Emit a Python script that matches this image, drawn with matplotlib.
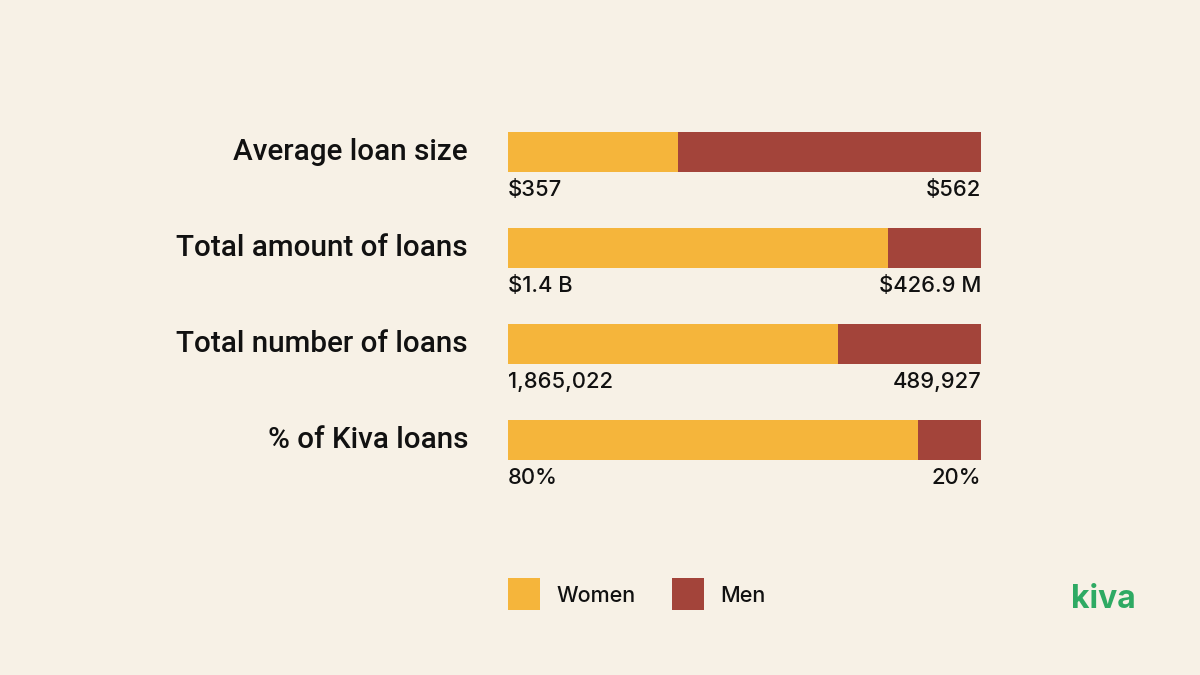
import matplotlib
matplotlib.use("Agg")
import matplotlib.pyplot as plt
from matplotlib.patches import Rectangle
import matplotlib.transforms as mtransforms

categories = ["Average loan size", "Total amount of loans", "Total number of loans", "% of Kiva loans"]
women_share = [0.359, 0.803, 0.698, 0.867]
men_share = [1 - w for w in women_share]
women_labels = ["$357", "$1.4 B", "1,865,022", "80%"]
men_labels = ["$562", "$426.9 M", "489,927", "20%"]
series = ["Women", "Men"]

BG = "#F7F1E6"
YEL = "#F5B53B"
RED = "#A3443A"
GREEN = "#2EAA63"
FONT = "Inter"
CATFONT = "Roboto"

fig = plt.figure(figsize=(12, 6.75), dpi=100, facecolor=BG)
ax = fig.add_axes([508 / 1200, 1 - 488.3 / 675, 473 / 1200, 384 / 675])
ax.set_facecolor(BG)
ypos = list(range(len(categories)))
ax.barh(ypos, women_share, height=40 / 96, color=YEL, linewidth=0)
ax.barh(ypos, men_share, left=women_share, height=40 / 96, color=RED, linewidth=0)
ax.set_xlim(0, 1)
ax.set_ylim(3.5, -0.5)
ax.axis("off")

off = mtransforms.offset_copy(ax.transData, fig=fig, x=0, y=-8, units="dots")
cat_tr = mtransforms.blended_transform_factory(
    ax.transAxes, mtransforms.offset_copy(ax.transData, fig=fig, x=0, y=0, units="dots"))
for i in ypos:
    ax.text(0, i + 20 / 96, women_labels[i], transform=off, ha="left", va="top",
            fontsize=15.8, family=FONT, fontweight="medium", color="#111111")
    ax.text(1, i + 20 / 96, men_labels[i], transform=off, ha="right", va="top",
            fontsize=15.8, family=FONT, fontweight="medium", color="#111111")
    ax.text(-40 / 473, i, categories[i], transform=cat_tr,
            ha="right", va="center", fontsize=21.3, family=CATFONT, fontweight="medium", color="#111111")

# legend
colors = [YEL, RED]
lx = [508, 672]
for name, c, x in zip(series, colors, lx):
    fig.patches.append(Rectangle((x / 1200, 1 - 610 / 675), 32 / 1200, 32 / 675,
                                 transform=fig.transFigure, facecolor=c, linewidth=0))
    fig.text((x + 48) / 1200, 1 - 596 / 675, name, ha="left", va="center",
             fontsize=15.5, family=FONT, fontweight="medium", color="#111111")

fig.text(1136 / 1200, 1 - 599 / 675, "kiva", ha="right", va="center", fontsize=23,
         family=FONT, fontweight="bold", color=GREEN)

fig.savefig("out.png", dpi=100, facecolor=BG)
